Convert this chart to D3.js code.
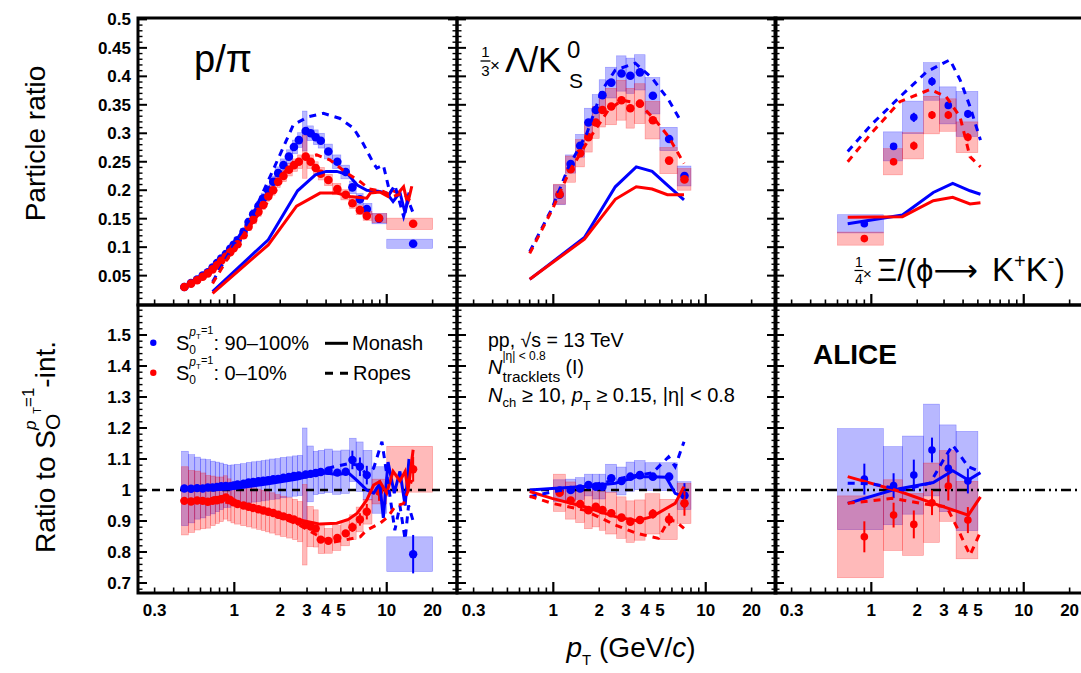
<!DOCTYPE html>
<html><head><meta charset="utf-8">
<script src="https://cdn.jsdelivr.net/npm/d3@7"></script>
<style>
body{margin:0;background:#fff;}
svg{display:block;}
text{font-family:"Liberation Sans",Arial,Helvetica,"DejaVu Sans",sans-serif;white-space:pre;}
</style>
</head><body>
<svg id="c" width="1081" height="673"></svg>
<script>
// ================= DATA =================
// ---- p/pi ----
const ppiPt    = [0.47,0.52,0.57,0.62,0.67,0.72,0.77,0.82,0.88,0.94,0.99,1.05,1.15,1.24,1.33,1.44,1.55,1.67,1.8,1.94,2.1,2.28,2.46,2.65,2.94,3.17,3.42,3.69,4.14,4.74,5.38,5.95,6.67,7.4,8.9,14.9];
const ppiEdges = [0.45,0.5,0.55,0.6,0.65,0.7,0.75,0.8,0.85,0.9,0.95,1.0,1.1,1.2,1.3,1.4,1.5,1.6,1.7,1.85,2.0,2.2,2.4,2.6,2.8,3.0,3.3,3.55,3.9,4.4,5.0,5.7,6.3,7.0,8.0,10,20];
const ppiBlue  = [0.030,0.037,0.043,0.050,0.056,0.064,0.072,0.080,0.088,0.097,0.104,0.112,0.127,0.144,0.158,0.172,0.186,0.200,0.215,0.230,0.244,0.259,0.276,0.288,0.304,0.300,0.293,0.287,0.268,0.250,0.232,0.205,0.184,0.167,0.150,0.106];
const ppiRed   = [0.030,0.036,0.042,0.048,0.054,0.061,0.068,0.076,0.083,0.091,0.098,0.105,0.121,0.136,0.148,0.162,0.174,0.189,0.200,0.215,0.225,0.236,0.244,0.250,0.259,0.250,0.239,0.229,0.218,0.202,0.192,0.177,0.165,0.155,0.151,0.141];
const ppiBlueSys = [0.002,0.002,0.003,0.003,0.003,0.004,0.004,0.004,0.005,0.005,0.005,0.006,0.006,0.007,0.008,0.008,0.009,0.009,0.010,0.011,0.011,0.012,0.012,0.013,0.035,0.013,0.013,0.013,0.013,0.012,0.012,0.011,0.010,0.010,0.009,0.008];
const ppiRedSys  = [0.002,0.002,0.003,0.003,0.003,0.003,0.004,0.004,0.004,0.005,0.005,0.005,0.006,0.007,0.007,0.008,0.008,0.009,0.009,0.010,0.010,0.011,0.011,0.012,0.038,0.012,0.011,0.011,0.010,0.010,0.009,0.009,0.008,0.008,0.008,0.010];
const ppiMonashBluePt = [0.72,1.67,2.6,3.4,4.0,4.7,5.6,6.4,7.4,8.8,10,11,12.2,13.2,14];
const ppiMonashBlue   = [0.022,0.113,0.199,0.227,0.233,0.233,0.227,0.209,0.200,0.198,0.195,0.180,0.196,0.160,0.196];
const ppiMonashRedPt  = [0.72,1.67,2.56,3.65,4.7,5.75,7.4,7.8,9.0,10.2,10.8,11.9,12.9,13.7,14.6];
const ppiMonashRed    = [0.019,0.104,0.172,0.195,0.195,0.189,0.186,0.195,0.197,0.189,0.200,0.195,0.206,0.176,0.207];
const ppiRopesBluePt  = [0.72,0.99,1.33,1.8,2.44,3.06,3.84,4.94,6.05,7.0,8.2,8.6,9.5,10.5,11.3,12.9,13.8,14.9];
const ppiRopesBlue    = [0.039,0.104,0.159,0.236,0.315,0.329,0.335,0.326,0.309,0.282,0.247,0.239,0.244,0.195,0.209,0.154,0.183,0.160];
const ppiRopesRedPt   = [0.72,0.99,1.63,2.1,2.7,3.47,4.25,5.47,6.7,7.7,9.5,11,12.9,14.6];
const ppiRopesRed     = [0.036,0.098,0.177,0.230,0.256,0.262,0.253,0.230,0.215,0.202,0.198,0.189,0.195,0.177];
// ratios p/pi
const ppiRatioBlue = [1.005,1.004,1.006,1.005,1.008,1.008,1.010,1.012,1.013,1.012,1.015,1.018,1.020,1.024,1.026,1.028,1.030,1.032,1.035,1.036,1.040,1.042,1.045,1.047,1.050,1.052,1.055,1.058,1.062,1.056,1.059,1.097,1.075,1.048,1.000,0.793];
const ppiRatioRed  = [0.965,0.963,0.966,0.965,0.962,0.965,0.967,0.970,0.976,0.968,0.960,0.955,0.950,0.946,0.942,0.938,0.934,0.930,0.926,0.920,0.915,0.910,0.905,0.898,0.888,0.882,0.876,0.840,0.836,0.845,0.860,0.880,0.905,0.930,0.995,1.067];
const ppiRatioBlueSys = [0.12,0.11,0.10,0.095,0.09,0.085,0.08,0.075,0.07,0.068,0.066,0.065,0.065,0.065,0.065,0.065,0.065,0.065,0.065,0.065,0.065,0.065,0.065,0.065,0.15,0.09,0.07,0.07,0.07,0.07,0.07,0.07,0.08,0.08,0.075,0.056];
const ppiRatioRedSys  = [0.11,0.10,0.095,0.09,0.085,0.08,0.075,0.072,0.07,0.068,0.066,0.065,0.065,0.065,0.065,0.065,0.065,0.065,0.065,0.065,0.065,0.065,0.065,0.065,0.13,0.065,0.06,0.045,0.04,0.04,0.04,0.04,0.04,0.04,0.04,0.074];
const ppiRatioBlueStat = [0.003,0.003,0.003,0.003,0.003,0.003,0.003,0.003,0.003,0.003,0.003,0.003,0.003,0.003,0.003,0.003,0.003,0.003,0.003,0.003,0.003,0.003,0.003,0.004,0.004,0.004,0.005,0.005,0.006,0.008,0.01,0.03,0.03,0.03,0.03,0.062];
const ppiRatioRedStat  = [0.003,0.003,0.003,0.003,0.003,0.003,0.003,0.003,0.003,0.003,0.003,0.003,0.003,0.003,0.003,0.003,0.003,0.003,0.003,0.003,0.003,0.003,0.003,0.004,0.004,0.004,0.005,0.005,0.006,0.008,0.01,0.015,0.02,0.025,0.03,0.04];
const ppiRatioMonashBluePt = [0.72,1.0,1.67,2.6,3.4,4.0,4.7,5.6,6.4,7.4,8.2,9.0,9.5,10.2,11.2,12.2,13.2,14.0];
const ppiRatioMonashBlue   = [1.0,1.005,1.02,1.035,1.05,1.055,1.05,1.055,1.03,1.0,0.99,1.02,0.91,1.09,0.99,1.06,0.95,1.10];
const ppiRatioMonashRedPt  = [0.72,0.88,1.0,1.67,2.6,3.65,4.7,5.6,6.4,7.4,8.2,9.0,10.0,11.0,12.2,13.2,13.8,14.9];
const ppiRatioMonashRed    = [0.975,0.978,0.96,0.935,0.905,0.89,0.893,0.905,0.925,0.968,1.016,1.027,0.99,1.06,1.03,1.06,1.0,1.13];
const ppiRatioRopesBluePt  = [0.72,1.5,2.5,3.5,4.5,5.6,6.5,7.4,8.2,9.3,10.5,11.3,12.2,13.2,13.9,14.9];
const ppiRatioRopesBlue    = [1.0,1.02,1.04,1.06,1.075,1.085,1.08,1.05,1.07,1.156,0.98,0.87,0.95,0.84,0.95,0.90];
const ppiRatioRopesRedPt   = [0.72,1.0,1.67,2.6,3.47,4.25,5.47,6.7,7.4,9.0,10.2,11.3,12.9,14.6];
const ppiRatioRopesRed     = [0.97,0.955,0.925,0.89,0.855,0.83,0.84,0.849,0.871,0.892,0.914,0.946,0.957,1.032];

// ---- Lambda/K0S (x1/3) ----
const lkPt    = [1.1,1.3,1.5,1.7,1.9,2.1,2.4,2.8,3.2,3.7,4.5,5.75,7.25];
const lkEdges = [1.0,1.2,1.4,1.6,1.8,2.0,2.2,2.6,3.0,3.4,4.0,5.0,6.5,8.0];
const lkBlue  = [0.192,0.246,0.278,0.319,0.341,0.367,0.389,0.405,0.401,0.407,0.366,0.290,0.225];
const lkRed   = [0.193,0.237,0.265,0.293,0.319,0.341,0.347,0.358,0.344,0.352,0.323,0.252,0.219];
const lkBlueSys = [0.0175,0.016,0.02,0.025,0.027,0.027,0.027,0.031,0.031,0.031,0.032,0.0205,0.0175];
const lkRedSys  = [0.0175,0.023,0.024,0.026,0.028,0.03,0.032,0.035,0.035,0.035,0.033,0.023,0.019];
const lkMonashPt   = [0.7,1.6,2.55,3.5,4.45,5.6,7.2];
const lkMonashBlue = [0.0435,0.117,0.206,0.241,0.233,0.209,0.183];
const lkMonashRed  = [0.0435,0.114,0.184,0.206,0.202,0.192,0.192];
const lkRopesBluePt = [0.7,0.98,1.26,1.66,2.09,2.55,3.45,4.44,5.7,6.8];
const lkRopesBlue   = [0.092,0.168,0.241,0.300,0.376,0.411,0.423,0.397,0.359,0.323];
const lkRopesRedPt  = [0.7,0.98,1.26,1.7,2.3,2.83,3.63,4.67,5.7,7.2];
const lkRopesRed    = [0.089,0.165,0.230,0.288,0.341,0.358,0.353,0.323,0.294,0.247];
const lkRatioBlue = [0.998,1.0,1.005,1.016,1.011,1.011,1.038,1.029,1.043,1.048,1.043,1.043,0.982];
const lkRatioRed  = [0.991,0.966,0.955,0.935,0.946,0.935,0.925,0.911,0.898,0.903,0.923,0.905,0.957];
const lkRatioBlueSys = [0.035,0.035,0.035,0.035,0.04,0.04,0.045,0.045,0.047,0.047,0.045,0.045,0.045];
const lkRatioRedSys  = [0.06,0.06,0.06,0.06,0.065,0.065,0.067,0.067,0.067,0.065,0.065,0.065,0.065];
const lkRatioBlueStat = [0.005,0.005,0.005,0.005,0.005,0.005,0.006,0.006,0.007,0.008,0.01,0.012,0.04];
const lkRatioRedStat  = [0.005,0.005,0.005,0.005,0.005,0.005,0.006,0.006,0.007,0.008,0.015,0.02,0.04];
const lkRatioMonashBluePt = [0.7,0.98,1.6,2.55,3.54,4.44,5.5,6.3,7.2];
const lkRatioMonashBlue   = [1.0,1.005,1.011,1.022,1.043,1.043,1.041,0.989,0.978];
const lkRatioMonashRedPt  = [0.7,0.98,1.6,2.55,3.54,4.44,6.3,7.2];
const lkRatioMonashRed    = [0.995,0.973,0.946,0.914,0.901,0.914,0.957,1.011];
const lkRatioRopesBluePt  = [0.7,0.98,1.6,2.27,3.1,4.44,4.79,5.7,6.3,7.2];
const lkRatioRopesBlue    = [0.978,0.994,1.011,1.027,1.043,1.055,1.07,1.107,1.075,1.156];
const lkRatioRopesRedPt   = [0.7,0.98,1.6,2.55,3.54,4.9,5.7,6.3,7.2];
const lkRatioRopesRed     = [0.98,0.957,0.935,0.887,0.86,0.844,0.903,0.90,0.876];

// ---- Xi/phi (x1/4) ----
const xpPt    = [0.9,1.4,1.9,2.5,3.2,4.3];
const xpEdges = [0.6,1.2,1.6,2.2,2.8,3.6,5.0];
const xpBlue  = [0.141,0.277,0.328,0.391,0.349,0.334];
const xpRed   = [0.115,0.250,0.278,0.332,0.332,0.293];
const xpBlueSys = [0.016,0.0255,0.0285,0.033,0.0325,0.0395];
const xpRedSys  = [0.0115,0.023,0.023,0.033,0.0285,0.027];
const xpBlueStat = [0.004,0.006,0.008,0.0075,0.006,0.007];
const xpRedStat  = [0.004,0.006,0.0075,0.007,0.007,0.007];
const xpMonashPt   = [0.7,1.6,2.55,3.42,4.44,5.2];
const xpMonashBlue = [0.141,0.1565,0.196,0.212,0.199,0.193];
const xpMonashRed  = [0.1525,0.1535,0.1816,0.1876,0.1758,0.178];
const xpRopesBluePt = [0.7,1.0,1.54,2.31,3.28,3.82,4.44,5.2];
const xpRopesBlue   = [0.268,0.315,0.364,0.408,0.429,0.394,0.347,0.288];
const xpRopesRedPt  = [0.7,1.0,1.54,2.43,3.1,3.82,4.44,5.2];
const xpRopesRed    = [0.25,0.30,0.3555,0.377,0.364,0.329,0.259,0.241];
const xpRatioBlue = [1.035,1.014,1.048,1.129,1.07,1.029];
const xpRatioRed  = [0.849,0.919,0.889,0.959,1.013,0.903];
const xpRatioBlueSys = [0.163,0.126,0.126,0.148,0.14,0.16];
const xpRatioRedSys  = [0.132,0.114,0.10,0.128,0.114,0.125];
const xpRatioBlueStat = [0.05,0.04,0.05,0.04,0.045,0.04];
const xpRatioRedStat  = [0.05,0.04,0.045,0.04,0.047,0.042];
const xpRatioMonashBluePt = [0.7,1.38,2.55,3.42,4.33,5.2];
const xpRatioMonashBlue   = [0.957,1.0,1.024,1.062,1.032,1.056];
const xpRatioMonashRedPt  = [0.7,1.54,2.55,4.33,5.2];
const xpRatioMonashRed    = [1.043,0.995,0.957,0.919,0.978];
const xpRatioRopesBluePt  = [0.7,1.0,1.62,2.43,2.97,3.42,4.33,5.2];
const xpRatioRopesBlue    = [1.022,1.02,1.0,1.022,1.097,1.145,1.075,1.059];
const xpRatioRopesRedPt   = [0.7,1.38,2.43,3.12,3.72,4.44,5.2];
const xpRatioRopesRed     = [0.957,0.973,0.952,0.946,0.871,0.79,0.865];

// axis ticks
const xTickLabels = [0.3,1,2,3,4,5,10,20];
const xMinorTicks = [0.3,0.4,0.5,0.6,0.7,0.8,0.9,2,3,4,5,6,7,8,9,20];
const xMajorTicks = [1,10];
const yTopLabels = [0.05,0.1,0.15,0.2,0.25,0.3,0.35,0.4,0.45,0.5];
const yBotLabels = [0.7,0.8,0.9,1,1.1,1.2,1.3,1.4,1.5];

// ================= LAYOUT =================
const BLUE = "#0000ff", RED = "#ff0000";
const BOX = {blue:"rgba(0,0,255,0.28)", red:"rgba(255,0,0,0.27)"};
const BOXS = {blue:"rgba(0,0,255,0.35)", red:"rgba(255,0,0,0.35)"};
const COL = {blue:BLUE, red:RED};
const colLeft = [138,457,775], colW = 319;
const rows = [[18,305],[305,593]];
const xDomain = [0.2334,28.9];
const yTop = d3.scaleLinear().domain([0,0.5]).range([304.1,19.4]);
const yBot = d3.scaleLinear().domain([0.7,1.5]).range([583,335]);

const svg = d3.select("#c");
const defs = svg.append("defs");
const meas = svg.append("text").attr("visibility","hidden");
function measure(t, fs, it, b){
  meas.attr("font-size",fs).attr("font-style",it?"italic":"normal").attr("font-weight",b?"bold":"normal").text(t);
  return meas.node().getComputedTextLength();
}
function rich(parent, x0, y0, segs, anchor){
  let cur=0, lastStart=0, lastEnd=0; const items=[];
  segs.forEach(s=>{
    const w = measure(s.t, s.fs, s.it, s.b);
    let sx = s.stack ? lastStart : cur;
    sx += (s.dx||0);
    items.push({s,sx});
    const end = sx+w;
    cur = s.stack ? Math.max(lastEnd,end) : end;
    lastStart = sx; lastEnd = end;
  });
  const shift = anchor==="middle" ? -cur/2 : 0;
  items.forEach(({s,sx})=>{
    parent.append("text").attr("x",x0+sx+shift).attr("y",y0+(s.dy||0))
      .attr("font-size",s.fs).attr("font-style",s.it?"italic":"normal")
      .attr("font-weight",s.b?"bold":"normal").attr("fill","#000").text(s.t);
  });
}

const panels = [
 {c:0,r:0,rad:4.3,
  series:[{pt:ppiPt,v:ppiBlue,sys:ppiBlueSys,e:ppiEdges,col:"blue"},{pt:ppiPt,v:ppiRed,sys:ppiRedSys,e:ppiEdges,col:"red"}],
  models:[{pt:ppiMonashBluePt,v:ppiMonashBlue,col:"blue"},{pt:ppiMonashRedPt,v:ppiMonashRed,col:"red"},
          {pt:ppiRopesBluePt,v:ppiRopesBlue,col:"blue",dash:true},{pt:ppiRopesRedPt,v:ppiRopesRed,col:"red",dash:true}]},
 {c:1,r:0,rad:4.3,
  series:[{pt:lkPt,v:lkBlue,sys:lkBlueSys,e:lkEdges,col:"blue"},{pt:lkPt,v:lkRed,sys:lkRedSys,e:lkEdges,col:"red"}],
  models:[{pt:lkMonashPt,v:lkMonashBlue,col:"blue"},{pt:lkMonashPt,v:lkMonashRed,col:"red"},
          {pt:lkRopesBluePt,v:lkRopesBlue,col:"blue",dash:true},{pt:lkRopesRedPt,v:lkRopesRed,col:"red",dash:true}]},
 {c:2,r:0,rad:3.8,
  series:[{pt:xpPt,v:xpBlue,sys:xpBlueSys,stat:xpBlueStat,e:xpEdges,col:"blue"},{pt:xpPt,v:xpRed,sys:xpRedSys,stat:xpRedStat,e:xpEdges,col:"red"}],
  models:[{pt:xpMonashPt,v:xpMonashBlue,col:"blue"},{pt:xpMonashPt,v:xpMonashRed,col:"red"},
          {pt:xpRopesBluePt,v:xpRopesBlue,col:"blue",dash:true},{pt:xpRopesRedPt,v:xpRopesRed,col:"red",dash:true}]},
 {c:0,r:1,rad:4.2,ref:"8,6",
  series:[{pt:ppiPt,v:ppiRatioBlue,sys:ppiRatioBlueSys,stat:ppiRatioBlueStat,e:ppiEdges,col:"blue"},{pt:ppiPt,v:ppiRatioRed,sys:ppiRatioRedSys,stat:ppiRatioRedStat,e:ppiEdges,col:"red"}],
  models:[{pt:ppiRatioMonashBluePt,v:ppiRatioMonashBlue,col:"blue"},{pt:ppiRatioMonashRedPt,v:ppiRatioMonashRed,col:"red"},
          {pt:ppiRatioRopesBluePt,v:ppiRatioRopesBlue,col:"blue",dash:true},{pt:ppiRatioRopesRedPt,v:ppiRatioRopesRed,col:"red",dash:true}]},
 {c:1,r:1,rad:4.3,ref:"8,6",
  series:[{pt:lkPt,v:lkRatioBlue,sys:lkRatioBlueSys,stat:lkRatioBlueStat,e:lkEdges,col:"blue"},{pt:lkPt,v:lkRatioRed,sys:lkRatioRedSys,stat:lkRatioRedStat,e:lkEdges,col:"red"}],
  models:[{pt:lkRatioMonashBluePt,v:lkRatioMonashBlue,col:"blue"},{pt:lkRatioMonashRedPt,v:lkRatioMonashRed,col:"red"},
          {pt:lkRatioRopesBluePt,v:lkRatioRopesBlue,col:"blue",dash:true},{pt:lkRatioRopesRedPt,v:lkRatioRopesRed,col:"red",dash:true}]},
 {c:2,r:1,rad:3.8,ref:"10,4,2,4,2,4",
  series:[{pt:xpPt,v:xpRatioBlue,sys:xpRatioBlueSys,stat:xpRatioBlueStat,e:xpEdges,col:"blue"},{pt:xpPt,v:xpRatioRed,sys:xpRatioRedSys,stat:xpRatioRedStat,e:xpEdges,col:"red"}],
  models:[{pt:xpRatioMonashBluePt,v:xpRatioMonashBlue,col:"blue"},{pt:xpRatioMonashRedPt,v:xpRatioMonashRed,col:"red"},
          {pt:xpRatioRopesBluePt,v:xpRatioRopesBlue,col:"blue",dash:true},{pt:xpRatioRopesRedPt,v:xpRatioRopesRed,col:"red",dash:true}]}
];

panels.forEach((p,i)=>{
  const x0 = colLeft[p.c], x1 = x0+colW;
  const [yT,yB] = rows[p.r];
  const xs = d3.scaleLog().domain(xDomain).range([x0,x1]);
  const ys = p.r===0 ? yTop : yBot;
  defs.append("clipPath").attr("id","clip"+i).append("rect")
    .attr("x",x0).attr("y",yT).attr("width",colW).attr("height",yB-yT);
  const g = svg.append("g").attr("clip-path",`url(#clip${i})`);
  // sys boxes
  p.series.forEach(s=>{
    const d = s.v.map((v,k)=>({v,lo:s.e[k],hi:s.e[k+1],sys:s.sys[k]}));
    g.append("g").selectAll("rect").data(d).join("rect")
      .attr("x",d=>xs(d.lo)).attr("width",d=>xs(d.hi)-xs(d.lo))
      .attr("y",d=>ys(d.v+d.sys)).attr("height",d=>ys(d.v-d.sys)-ys(d.v+d.sys))
      .attr("fill",BOX[s.col]).attr("stroke",BOXS[s.col]).attr("stroke-width",0.6);
  });
  // reference line at 1
  if(p.ref){
    g.append("line").attr("x1",x0).attr("x2",x1).attr("y1",ys(1)).attr("y2",ys(1))
      .attr("stroke","#000").attr("stroke-width",2.6).attr("stroke-dasharray",p.ref);
  }
  // stat bars + markers
  p.series.forEach(s=>{
    const d = s.v.map((v,k)=>({pt:s.pt[k],v,st:s.stat?s.stat[k]:0}));
    g.append("g").selectAll("line").data(d.filter(e=>e.st>0)).join("line")
      .attr("x1",e=>xs(e.pt)).attr("x2",e=>xs(e.pt))
      .attr("y1",e=>ys(e.v+e.st)).attr("y2",e=>ys(e.v-e.st))
      .attr("stroke",COL[s.col]).attr("stroke-width",2);
    g.append("g").selectAll("circle").data(d).join("circle")
      .attr("cx",e=>xs(e.pt)).attr("cy",e=>ys(e.v)).attr("r",p.rad).attr("fill",COL[s.col]);
  });
  // model lines
  p.models.forEach(m=>{
    const line = d3.line().x(d=>xs(d[0])).y(d=>ys(d[1]));
    g.append("path").attr("d",line(m.pt.map((t,k)=>[t,m.v[k]])))
      .attr("fill","none").attr("stroke",COL[m.col]).attr("stroke-width",3)
      .attr("stroke-dasharray",m.dash?"7,6":null);
  });
  // frame
  svg.append("rect").attr("x",x0).attr("y",yT).attr("width",colW).attr("height",yB-yT)
    .attr("fill","none").attr("stroke","#000").attr("stroke-width",3);
  // x ticks (bottom edge, inward)
  const tg = svg.append("g").attr("stroke","#000").attr("stroke-width",1.6);
  xMinorTicks.forEach(t=>tg.append("line").attr("x1",xs(t)).attr("x2",xs(t)).attr("y1",yB).attr("y2",yB-5.5));
  xMajorTicks.forEach(t=>tg.append("line").attr("x1",xs(t)).attr("x2",xs(t)).attr("y1",yB).attr("y2",yB-11).attr("stroke-width",2.2));
  // y ticks both sides
  let yt;
  if(p.r===0) yt = d3.range(1,51).map(k=>({v:k/100,maj:k%5===0}));
  else yt = d3.range(34,80).map(k=>({v:k/50,maj:k%5===0}));
  yt.forEach(t=>{
    const y = ys(t.v); if(y<yT+1||y>yB-1) return;
    const L = t.maj?9:4.5;
    tg.append("line").attr("x1",x0).attr("x2",x0+L).attr("y1",y).attr("y2",y).attr("stroke-width",t.maj?2:1.4);
    tg.append("line").attr("x1",x1).attr("x2",x1-L).attr("y1",y).attr("y2",y).attr("stroke-width",t.maj?2:1.4);
  });
  // x tick labels
  if(p.r===1){
    xTickLabels.forEach(t=>svg.append("text").attr("x",xs(t)).attr("y",616).attr("text-anchor","middle")
      .attr("font-size",17).attr("font-weight","bold").text(String(t)));
  }
  // y tick labels
  if(p.c===0){
    (p.r===0?yTopLabels:yBotLabels).forEach(t=>svg.append("text").attr("x",131).attr("y",ys(t)+6)
      .attr("text-anchor","end").attr("font-size",17).attr("font-weight","bold").text(String(t)));
  }
});

// ================= TEXT =================
// axis titles
svg.append("text").attr("transform","translate(45,143.5) rotate(-90)").attr("text-anchor","middle")
  .attr("font-size",28).text("Particle ratio");
const rl = svg.append("g").attr("transform","translate(55,447) rotate(-90)");
rich(rl,0,0,[{t:"Ratio to S",fs:28},{t:"O",fs:21,dy:5},{t:"p",fs:17,it:true,dy:-19,stack:true},{t:"T",fs:11,dy:-14},{t:"=1",fs:17,dy:-21},{t:"-int.",fs:28}],"middle");
rich(svg,631,657,[{t:"p",fs:28,it:true},{t:"T",fs:15,dy:8},{t:" (GeV/",fs:28},{t:"c",fs:28,it:true},{t:")",fs:28}],"middle");

// panel labels
svg.append("text").attr("x",194).attr("y",72).attr("font-size",38).text("p/π");
// 1/3 x Lambda/K0S
svg.append("text").attr("x",485.5).attr("y",57).attr("text-anchor","middle").attr("font-size",15).text("1");
svg.append("line").attr("x1",480.5).attr("x2",490.5).attr("y1",61).attr("y2",61).attr("stroke","#000").attr("stroke-width",1.3);
svg.append("text").attr("x",485.5).attr("y",76).attr("text-anchor","middle").attr("font-size",15).text("3");
svg.append("text").attr("x",490).attr("y",71).attr("font-size",17).text("×");
svg.append("text").attr("x",505).attr("y",72).attr("font-size",35).text("Λ/K");
svg.append("text").attr("x",567).attr("y",58).attr("font-size",24).text("0");
svg.append("text").attr("x",569).attr("y",88).attr("font-size",21).text("S");
// 1/4 x Xi/(phi -> K+K-)
svg.append("text").attr("x",859).attr("y",267).attr("text-anchor","middle").attr("font-size",14).text("1");
svg.append("line").attr("x1",854.5).attr("x2",863.5).attr("y1",270.5).attr("y2",270.5).attr("stroke","#000").attr("stroke-width",1.2);
svg.append("text").attr("x",859).attr("y",284).attr("text-anchor","middle").attr("font-size",14).text("4");
svg.append("text").attr("x",863).attr("y",279).attr("font-size",15).text("×");
rich(svg,877,281,[{t:"Ξ/(ϕ",fs:31},{t:"⟶",fs:31},{t:" K",fs:33,dx:5},{t:"+",fs:20,dy:-13},{t:"K",fs:33},{t:"-",fs:20,dy:-13},{t:")",fs:31}]);

// legend
svg.append("circle").attr("cx",153.3).attr("cy",342.7).attr("r",3.2).attr("fill",BLUE);
svg.append("circle").attr("cx",153.3).attr("cy",372.7).attr("r",3.2).attr("fill",RED);
rich(svg,176,350,[{t:"S",fs:20},{t:"0",fs:12,dy:4},{t:"p",fs:12,it:true,dy:-14,stack:true},{t:"T",fs:8,dy:-11},{t:"=1",fs:11,dy:-16},{t:": 90–100%",fs:20}]);
rich(svg,176,380,[{t:"S",fs:20},{t:"0",fs:12,dy:4},{t:"p",fs:12,it:true,dy:-14,stack:true},{t:"T",fs:8,dy:-11},{t:"=1",fs:11,dy:-16},{t:": 0–10%",fs:20}]);
svg.append("line").attr("x1",325).attr("x2",348).attr("y1",343.3).attr("y2",343.3).attr("stroke","#000").attr("stroke-width",3);
svg.append("text").attr("x",352).attr("y",350).attr("font-size",20).text("Monash");
svg.append("line").attr("x1",325).attr("x2",348).attr("y1",373.3).attr("y2",373.3).attr("stroke","#000").attr("stroke-width",3).attr("stroke-dasharray","8,7");
svg.append("text").attr("x",353).attr("y",380).attr("font-size",20).text("Ropes");

// middle annotations
rich(svg,488,347,[{t:"pp, √s = 13 TeV",fs:19.5}]);
rich(svg,488,374,[{t:"N",fs:20,it:true},{t:"|η| < 0.8",fs:12,dy:-14},{t:"tracklets",fs:15.5,dy:8,stack:true},{t:" (I)",fs:19.5}]);
rich(svg,488,402,[{t:"N",fs:20,it:true},{t:"ch",fs:13,dy:5},{t:" ≥ 10, ",fs:20},{t:"p",fs:20,it:true},{t:"T",fs:13,dy:8},{t:" ≥ 0.15, |η| < 0.8",fs:20}]);
// ALICE
svg.append("text").attr("x",813).attr("y",364).attr("font-size",28).attr("font-weight","bold").text("ALICE");
meas.remove();
</script>
</body></html>
